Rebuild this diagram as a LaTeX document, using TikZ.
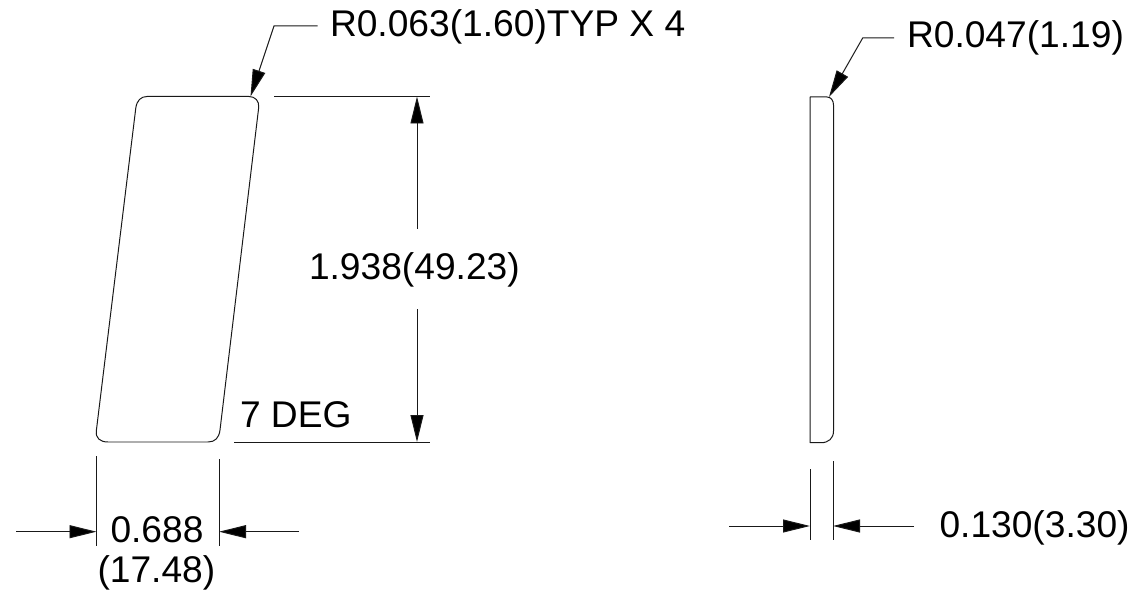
\documentclass[tikz,border=0pt]{standalone}
\usepackage{fontspec}
\setmainfont{Liberation Sans}
\usetikzlibrary{arrows.meta}
\tikzset{
  dimtext/.style={anchor=base west,inner sep=0pt,outer sep=0pt,font=\fontsize{37.3}{37.3}\selectfont},
  part/.style={line width=1pt,line join=round,black!90},
  thin line/.style={line width=1pt,black!90},
  arrow line/.style={thin line,-{Triangle[length=27bp,width=13bp,fill=black]}},
}
\begin{document}
\begin{tikzpicture}[x=1bp,y=-1bp]
\useasboundingbox (0,0) rectangle (1136,593);
% left part
\draw[part] (147,96.5) -- (249,96.5)
  .. controls (255,96.5) and (259.5,101) .. (258.7,107.5)
  -- (220,430)
  .. controls (219,438) and (215,442) .. (208,442)
  -- (108,442)
  .. controls (100,442) and (95.5,438) .. (96.3,431)
  -- (135.8,108)
  .. controls (136.8,100.5) and (141,96.5) .. (147,96.5) -- cycle;
% right part
\draw[part] (810,97) -- (827,97)
  .. controls (831,97) and (833.5,100.5) .. (833.5,105)
  -- (833.5,431)
  .. controls (833.5,438.5) and (828.5,442.7) .. (821,442.7)
  -- (810,442.7) -- cycle;
% text
\node[dimtext] (t1) at (330,37) {R0.063(1.60)TYP X 4};
\node[dimtext] (t2) at (907,48) {R0.047(1.19)};
\node[dimtext] (t3) at (309,280) {1.938(49.23)};
\node[dimtext] (t4) at (240,427) {7 DEG};
\node[dimtext] (t5) at (110.5,542) {0.688};
\node[dimtext] (t6) at (97.5,582) {(17.48)};
\node[dimtext] (t7) at (939.5,537) {0.130(3.30)};
% anchor points
\coordinate (l1a) at (317.7,26); \coordinate (l1b) at (274,26); \coordinate (l1c) at (250.5,96.5);
\coordinate (l2a) at (894,38); \coordinate (l2b) at (862.7,38); \coordinate (l2c) at (829,97);
\coordinate (e1a) at (274,96.5); \coordinate (e1b) at (430,96.5);
\coordinate (e2a) at (234,442); \coordinate (e2b) at (430,442);
\coordinate (v1) at (417,229); \coordinate (v1t) at (417,96.5);
\coordinate (v2) at (417,309); \coordinate (v2t) at (417,442);
\coordinate (w1a) at (96.5,456); \coordinate (w1b) at (96.5,545.7);
\coordinate (w2a) at (219,459); \coordinate (w2b) at (219,545.7);
\coordinate (a1) at (16,531.7); \coordinate (a1t) at (96.5,531.7);
\coordinate (a2) at (299,531.7); \coordinate (a2t) at (219,531.7);
\coordinate (x1a) at (810,469); \coordinate (x1b) at (810,540);
\coordinate (x2a) at (833,461); \coordinate (x2b) at (833,540);
\coordinate (b1) at (729,526); \coordinate (b1t) at (810,526);
\coordinate (b2) at (914,526); \coordinate (b2t) at (833,526);
% leaders
\draw[arrow line] (l1a) -- (l1b) -- (l1c);
\draw[arrow line] (l2a) -- (l2b) -- (l2c);
% extension lines
\draw[thin line] (e1a) -- (e1b);
\draw[thin line] (e2a) -- (e2b);
\draw[thin line] (w1a) -- (w1b);
\draw[thin line] (w2a) -- (w2b);
\draw[thin line] (x1a) -- (x1b);
\draw[thin line] (x2a) -- (x2b);
% dimension arrows
\draw[arrow line] (v1) -- (v1t);
\draw[arrow line] (v2) -- (v2t);
\draw[arrow line] (a1) -- (a1t);
\draw[arrow line] (a2) -- (a2t);
\draw[arrow line] (b1) -- (b1t);
\draw[arrow line] (b2) -- (b2t);
\end{tikzpicture}
\end{document}
